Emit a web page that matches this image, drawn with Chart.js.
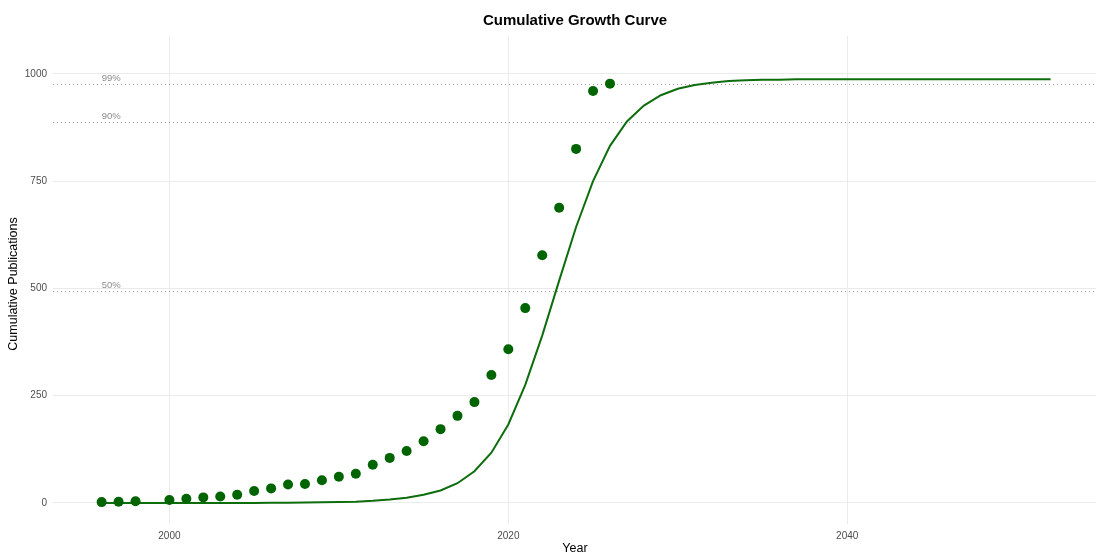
<!DOCTYPE html>
<html>
<head>
<meta charset="utf-8">
<title>Cumulative Growth Curve</title>
<script src="https://cdn.jsdelivr.net/npm/chart.js@4/dist/chart.umd.min.js"></script>
<style>
  html, body { margin: 0; padding: 0; background: #ffffff; overflow: hidden; }
  #wrap { position: relative; width: 1096px; height: 555px; overflow: hidden; }
  #c { display: block; }
</style>
</head>
<body>
<div id="wrap"><canvas id="c" width="1102" height="555"></canvas></div>
<script>
// Observed cumulative publication counts per year
const observedYears = [1996, 1997, 1998, 2000, 2001, 2002, 2003, 2004, 2005, 2006,
  2007, 2008, 2009, 2010, 2011, 2012, 2013, 2014, 2015, 2016,
  2017, 2018, 2019, 2020, 2021, 2022, 2023, 2024, 2025, 2026];
const observedCounts = [2, 3, 4, 7, 10, 13, 15, 19, 28, 34,
  43, 44, 53, 61, 68, 89, 105, 121, 144, 172,
  203, 235, 298, 358, 454, 577, 688, 825, 960, 977];

// Fitted logistic curve, one value per year
const fitYears = [1996, 1997, 1998, 1999, 2000, 2001, 2002, 2003, 2004, 2005,
  2006, 2007, 2008, 2009, 2010, 2011, 2012, 2013, 2014, 2015,
  2016, 2017, 2018, 2019, 2020, 2021, 2022, 2023, 2024, 2025,
  2026, 2027, 2028, 2029, 2030, 2031, 2032, 2033, 2034, 2035,
  2036, 2037, 2038, 2039, 2040, 2041, 2042, 2043, 2044, 2045,
  2046, 2047, 2048, 2049, 2050, 2051, 2052];
const fitCounts = [0, 0, 0, 0, 0, 0, 0, 0, 0, 0,
  0.5, 0.7, 1, 1.5, 2, 3, 5, 8, 12, 19,
  29, 46, 74, 117, 183, 275, 390, 518, 643, 750,
  832, 889, 926, 950, 965, 974, 979, 983, 985, 986,
  986, 987, 987, 987, 987, 987, 987, 987, 987, 987,
  987, 987, 987, 987, 987, 987, 987];

// Saturation level and the reference shares marked on the chart
const capacity = 987;
const thresholdShares = [0.5, 0.9, 0.99];
const thresholdLabels = ['50%', '90%', '99%'];

// Axis ticks and limits
const yearTicks = [2000, 2020, 2040];
const countTicks = [0, 250, 500, 750, 1000];
const yearRange = [1993.13, 2054.74];
const countRange = [-49, 1088];

const FONT = '"Liberation Sans", Arial, Helvetica, sans-serif';

const decorations = {
  id: 'decorations',
  beforeDatasetsDraw(chart) {
    const { ctx, chartArea, scales: { x, y } } = chart;
    ctx.save();
    ctx.beginPath();
    ctx.rect(chartArea.left, chartArea.top, chartArea.right - chartArea.left, chartArea.bottom - chartArea.top);
    ctx.clip();
    thresholdShares.forEach((share, i) => {
      const py = Math.round(y.getPixelForValue(capacity * share)) + 0.5;
      ctx.strokeStyle = '#9a9a9a';
      ctx.lineWidth = 1;
      ctx.setLineDash([1, 3]);
      ctx.beginPath();
      ctx.moveTo(chartArea.left, py);
      ctx.lineTo(chartArea.right, py);
      ctx.stroke();
      ctx.setLineDash([]);
      ctx.fillStyle = '#8c8c8c';
      ctx.font = '9.5px ' + FONT;
      ctx.textAlign = 'left';
      ctx.textBaseline = 'bottom';
      ctx.fillText(thresholdLabels[i], x.getPixelForValue(fitYears[0]), py - 1.5);
    });
    ctx.restore();
  },
  afterDraw(chart) {
    const { ctx, chartArea } = chart;
    const cx = (chartArea.left + chartArea.right) / 2;
    const cy = (chartArea.top + chartArea.bottom) / 2;
    ctx.save();
    ctx.fillStyle = '#000000';
    ctx.textAlign = 'center';
    ctx.textBaseline = 'middle';
    ctx.font = 'bold 15px ' + FONT;
    ctx.fillText('Cumulative Growth Curve', cx, 21);
    ctx.font = '12.5px ' + FONT;
    ctx.fillText('Year', cx, 549);
    ctx.translate(14, cy + 4);
    ctx.rotate(-Math.PI / 2);
    ctx.fillText('Cumulative Publications', 0, 0);
    ctx.restore();
  }
};

new Chart(document.getElementById('c'), {
  data: {
    datasets: [
      {
        type: 'scatter',
        data: observedYears.map((yr, i) => ({ x: yr, y: observedCounts[i] })),
        backgroundColor: '#006400',
        borderWidth: 0,
        pointRadius: 5,
        pointHoverRadius: 5
      },
      {
        type: 'line',
        data: fitYears.map((yr, i) => ({ x: yr, y: fitCounts[i] })),
        borderColor: '#0d6d0d',
        borderWidth: 2,
        pointRadius: 0,
        tension: 0,
        fill: false
      }
    ]
  },
  options: {
    responsive: false,
    animation: false,
    devicePixelRatio: 1,
    layout: { padding: { top: 36, left: 0, right: 0, bottom: 0 } },
    plugins: {
      legend: { display: false },
      tooltip: { enabled: false },
      title: { display: false }
    },
    scales: {
      x: {
        type: 'linear',
        min: yearRange[0],
        max: yearRange[1],
        afterFit(scale) { scale.height = 31; },
        afterBuildTicks(scale) { scale.ticks = yearTicks.map(v => ({ value: v })); },
        grid: { color: '#EBEBEB', lineWidth: 1, drawTicks: false },
        border: { display: false },
        ticks: {
          color: '#4D4D4D',
          font: { size: 10, family: FONT },
          padding: 6,
          maxRotation: 0,
          autoSkip: false,
          callback: v => String(v)
        }
      },
      y: {
        type: 'linear',
        min: countRange[0],
        max: countRange[1],
        afterFit(scale) { scale.width = 53; },
        afterBuildTicks(scale) { scale.ticks = countTicks.map(v => ({ value: v })); },
        grid: { color: '#EBEBEB', lineWidth: 1, drawTicks: false },
        border: { display: false },
        ticks: {
          color: '#4D4D4D',
          font: { size: 10, family: FONT },
          padding: 6,
          autoSkip: false,
          callback: v => String(v)
        }
      }
    }
  },
  plugins: [decorations]
});
</script>
</body>
</html>
